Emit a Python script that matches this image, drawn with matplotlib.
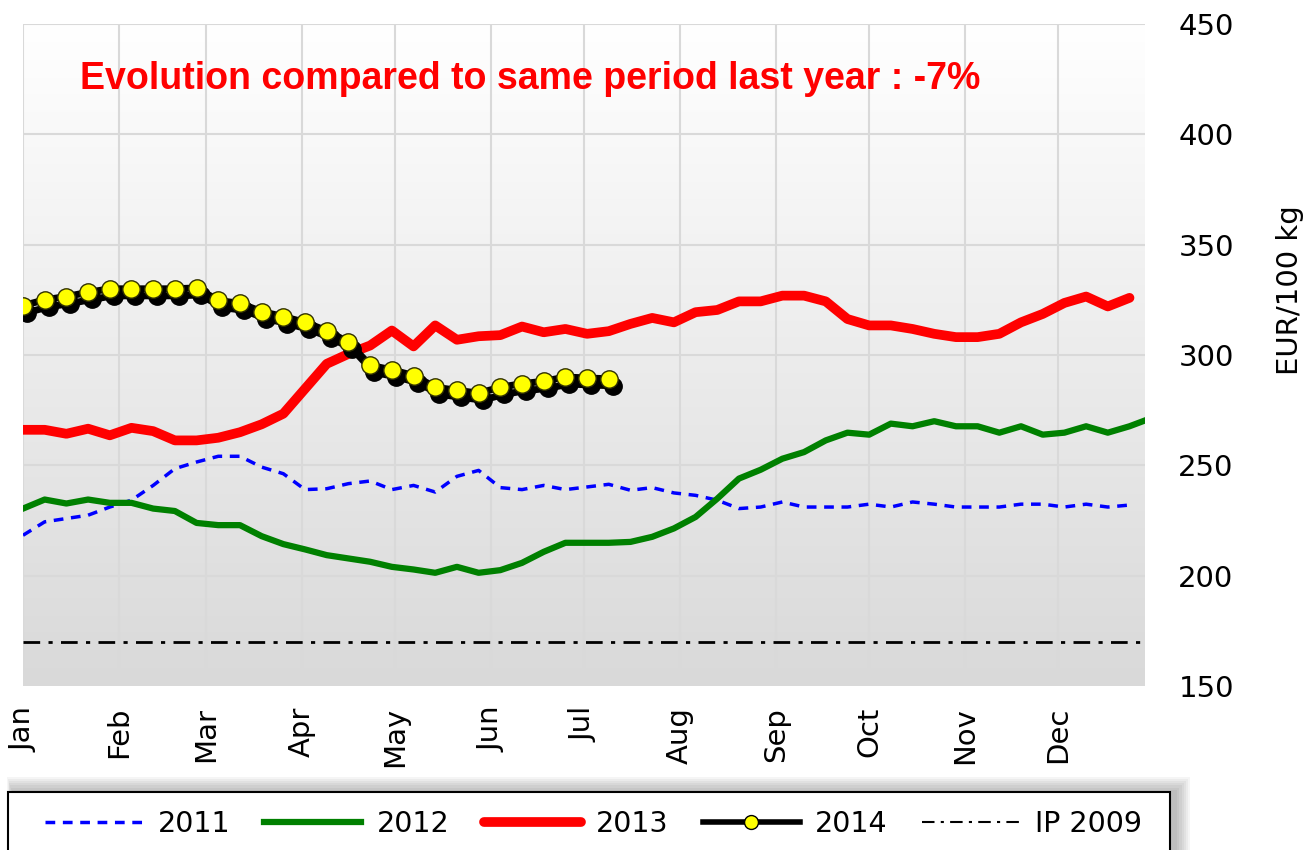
import numpy as np
import matplotlib
matplotlib.use("Agg")
import matplotlib.pyplot as plt
from matplotlib.transforms import offset_copy
from matplotlib.lines import Line2D
from matplotlib.patches import Rectangle

# weekly prices, EUR/100 kg
y2011 = [218.3, 224.4, 225.9, 227.4, 231.1, 234.2, 240.9, 248.5, 251.5, 254.1,
         254.1, 249.2, 246.2, 239.0, 239.4, 241.7, 242.9, 239.0, 240.9, 237.9,
         245.0, 247.7, 239.9, 239.0, 240.9, 239.0, 240.2, 241.4, 238.7, 239.9,
         237.5, 236.4, 234.2, 230.4, 231.1, 233.4, 231.1, 231.1, 231.1, 232.4,
         231.1, 233.4, 232.4, 231.1, 231.1, 231.1, 232.4, 232.4, 231.1, 232.4,
         231.1, 232.0]
y2012 = [230.4, 234.5, 232.7, 234.5, 233.0, 233.0, 230.4, 229.3, 223.9, 222.9,
         222.9, 217.9, 214.3, 211.9, 209.3, 207.8, 206.3, 204.0, 202.8, 201.3,
         204.0, 201.3, 202.5, 205.8, 210.8, 214.9, 214.9, 214.9, 215.3, 217.6,
         221.4, 226.6, 234.9, 244.0, 248.0, 253.0, 256.0, 261.3, 264.8, 263.9,
         268.9, 267.7, 270.0, 267.7, 267.7, 264.8, 267.7, 263.9, 264.8, 267.7,
         264.8, 267.7, 271.4]
y2013 = [266.1, 266.1, 264.3, 266.6, 263.6, 267.0, 265.5, 261.3, 261.3, 262.5,
         265.0, 268.6, 273.4, 284.7, 296.0, 300.5, 304.3, 311.1, 303.9, 313.4,
         306.9, 308.5, 309.0, 312.9, 310.3, 311.8, 309.6, 310.8, 314.1, 316.8,
         314.8, 319.4, 320.4, 324.3, 324.3, 326.9, 326.9, 324.3, 316.3, 313.4,
         313.4, 311.8, 309.6, 308.1, 308.1, 309.6, 314.8, 318.6, 323.6, 326.5,
         322.0, 325.9]
y2014 = [322.4, 325.0, 326.5, 328.4, 330.0, 330.0, 330.0, 330.0, 330.4, 324.7,
         323.4, 319.7, 317.4, 314.8, 311.0, 305.8, 295.3, 293.3, 290.7, 285.4,
         284.0, 282.7, 285.4, 287.0, 288.1, 290.0, 289.6, 289.2]
ip_2009 = 170

months = ["Jan", "Feb", "Mar", "Apr", "May", "Jun",
          "Jul", "Aug", "Sep", "Oct", "Nov", "Dec"]
month_start_days = [0, 31, 59, 90, 120, 151, 181, 212, 243, 273, 304, 334]
title = "Evolution compared to same period last year : -7%"

W, H = 1311, 850


def weeks(values):
    # one point per week, x in days since 1 Jan
    return 7 * np.arange(len(values))


def fx(px):
    return px / W


def fy(py):
    return 1 - py / H


fig = plt.figure(figsize=(W / 100, H / 100), dpi=100)
ax = fig.add_axes([fx(23), fy(686), 1122 / W, 662 / H])

# grey gradient background of the plot area
grad = np.linspace(0, 1, 256).reshape(-1, 1)
ax.imshow(grad, extent=[0, 1, 0, 1], transform=ax.transAxes, aspect="auto",
          cmap=matplotlib.colors.LinearSegmentedColormap.from_list(
              "bg", ["#d9d9d9", "#ffffff"]), origin="lower", zorder=0)

ax.axhline(ip_2009, color="black", lw=2, dashes=(6, 3, 1.5, 3), zorder=2)
ax.plot(weeks(y2011), y2011, color="#0000ff", lw=2.5, dashes=(2.8, 2.2), zorder=3)
ax.plot(weeks(y2012), y2012, color="#008000", lw=4.5, zorder=3)
ax.plot(weeks(y2013), y2013, color="#ff0000", lw=7, solid_capstyle="round", zorder=4)

# 2014: black line with yellow dots and a dark drop shadow
shadow = offset_copy(ax.transData, fig=fig, x=4, y=-7, units="dots")
ax.plot(weeks(y2014), y2014, color="black", lw=5, marker="o", ms=12.5,
        mfc="black", mec="black", transform=shadow, zorder=5)
ax.plot(weeks(y2014), y2014, color="black", lw=5, zorder=5)
ax.plot(weeks(y2014), y2014, ls="none", marker="o", ms=12.5, mfc="#ffff00",
        mec="#303000", mew=1, zorder=6)

ax.set_xlim(0, 362)
ax.set_ylim(150, 450)
ax.set_xticks(month_start_days)
ax.set_xticklabels(months, rotation=90, fontsize=21)
ax.set_yticks(range(150, 451, 50))
ax.yaxis.tick_right()
ax.tick_params(axis="y", length=0, pad=24, labelsize=21)
ax.tick_params(axis="x", length=0, pad=15)
ax.grid(True, color="#d9d9d9", lw=1.5, zorder=1)
ax.set_axisbelow(True)
for s in ax.spines.values():
    s.set_visible(False)

ax.set_ylabel("EUR/100 kg", fontsize=21)
ax.yaxis.set_label_position("right")
ax.yaxis.set_label_coords((1290 - 23) / 1122, (686 - 290) / 662)
ax.yaxis.label.set_ha("center")
ax.yaxis.label.set_va("center")

fig.text(fx(80), fy(79), title, color="#ff0000", fontsize=27,
         fontweight="bold", family="Liberation Sans", va="center", ha="left")

# legend box with a soft shadow, drawn by hand so the padding matches
bx0, by0, bx1, by1 = 8, 792, 1170, 880
for k in range(7, 0, -1):
    g = 2.2 * k
    fig.patches.append(Rectangle((fx(bx0 - g * 0.4 + 5), fy(by1 + g)),
                                 (bx1 - bx0 + g * 1.4) / W, (by1 - by0 + 2 * g) / H,
                                 transform=fig.transFigure, facecolor="black",
                                 edgecolor="none", alpha=0.04, zorder=0))
fig.patches.append(Rectangle((fx(bx0), fy(by1)), (bx1 - bx0) / W, (by1 - by0) / H,
                             transform=fig.transFigure, facecolor="white",
                             edgecolor="black", lw=1.5, zorder=1))

handles = [
    Line2D([], [], color="#0000ff", lw=2.5, dashes=(2.8, 2.2)),
    Line2D([], [], color="#008000", lw=4.5),
    Line2D([], [], color="#ff0000", lw=7, solid_capstyle="round"),
    Line2D([], [], color="black", lw=4, marker="o", ms=10, mfc="#ffff00", mec="black"),
    Line2D([], [], color="black", lw=1.5, dashes=(6, 3, 1.5, 3)),
]
leg = fig.legend(handles, ["2011", "2012", "2013", "2014", "IP 2009"],
                 loc="upper left", bbox_to_anchor=(fx(28), fy(793)),
                 ncol=5, fontsize=20.5, frameon=False, handlelength=3.4,
                 handletextpad=0.55, columnspacing=1.2, borderpad=0.6,
                 borderaxespad=0, numpoints=1)
leg.set_zorder(3)

fig.savefig("out.png", dpi=100)
